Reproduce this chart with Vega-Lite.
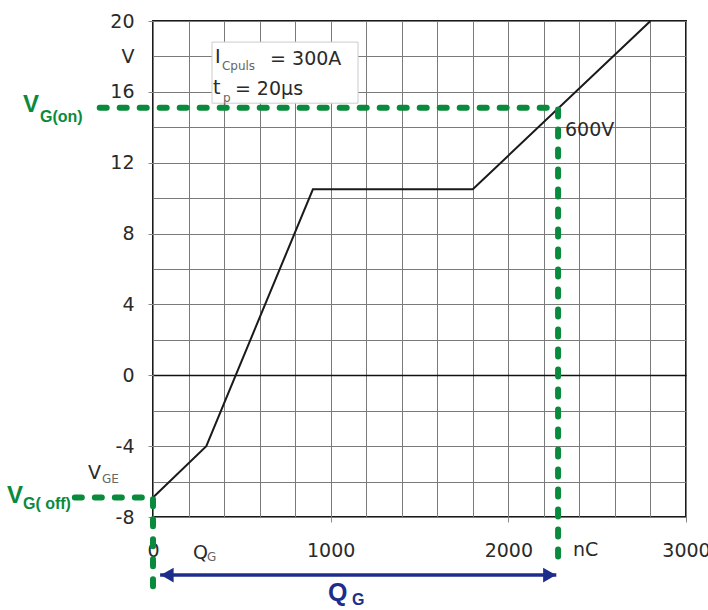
{
  "$schema": "https://vega.github.io/schema/vega-lite/v6.json",
  "width": 533,
  "height": 496,
  "autosize": {"type": "none"},
  "padding": {"left": 153, "top": 21, "right": 22, "bottom": 93},
  "background": "white",
  "config": {"view": {"stroke": "#1a1a1a", "strokeWidth": 2}, "font": "DejaVu Sans"},
  "datasets": {
    "curve": [{"q": 0, "v": -6.9}, {"q": 300, "v": -4}, {"q": 900, "v": 10.5}, {"q": 1800, "v": 10.5}, {"q": 2800, "v": 20}],
    "box": [{"q1": 332, "q2": 1154, "v1": 15.36, "v2": 18.81}],
    "guides": [
      {"id": "on", "seq": 1, "q": -300, "v": 15.1},
      {"id": "on", "seq": 2, "q": 2280, "v": 15.1},
      {"id": "on", "seq": 3, "q": 2280, "v": -10.85},
      {"id": "off", "seq": 1, "q": -440, "v": -6.9},
      {"id": "off", "seq": 2, "q": 0, "v": -6.9},
      {"id": "off", "seq": 3, "q": 0, "v": -12.0}
    ],
    "arrow": [{"q": 40, "v": -11.28}, {"q": 2270, "v": -11.28}],
    "heads": [{"q": 80, "v": -11.28, "dir": "left"}, {"q": 2232, "v": -11.28, "dir": "right"}],
    "greenBig": [{"q": -732, "v": 15.25, "t": "V"}, {"q": -822, "v": -6.81, "t": "V"}],
    "greenSub": [{"q": -636, "v": 14.57, "t": "G(on)"}, {"q": -732, "v": -7.26, "t": "G( off)"}],
    "greyMain": [
      {"q": 349, "v": 17.96, "t": "I"},
      {"q": 659, "v": 17.85, "t": "= 300A"},
      {"q": 338, "v": 16.2, "t": "t"},
      {"q": 461, "v": 16.15, "t": "= 20µs"},
      {"q": 2319, "v": 13.83, "t": "600V"},
      {"q": 2364, "v": -9.87, "t": "nC"},
      {"q": -366, "v": -5.51, "t": "V"},
      {"q": 225, "v": -10.04, "t": "Q"}
    ],
    "greySub": [
      {"q": 388, "v": 17.45, "t": "Cpuls"},
      {"q": 394, "v": 15.65, "t": "p"},
      {"q": -287, "v": -5.85, "t": "GE"},
      {"q": 304, "v": -10.26, "t": "G"}
    ],
    "blueBig": [{"q": 985, "v": -12.3, "t": "Q"}],
    "blueSub": [{"q": 1120, "v": -12.69, "t": "G"}]
  },
  "layer": [
    {
      "data": {"name": "box"},
      "mark": {"type": "rect", "fill": "white", "stroke": "#cccccc", "strokeWidth": 1},
      "encoding": {
        "x": {
          "field": "q1", "type": "quantitative",
          "scale": {"domain": [0, 3000], "nice": false, "zero": false},
          "axis": {
            "values": [0, 200, 400, 600, 800, 1000, 1200, 1400, 1600, 1800, 2000, 2200, 2400, 2600, 2800, 3000],
            "tickCount": 100,
            "labelExpr": "datum.value % 1000 === 0 ? '' + datum.value : ''",
            "title": null, "domain": false,
            "grid": true, "gridColor": "#7a7a7a", "gridWidth": 1,
            "ticks": true, "tickSize": 5, "tickColor": "#888",
            "tickOpacity": {"condition": {"test": "datum.value % 1000 === 0", "value": 1}, "value": 0},
            "labelPadding": 19, "labelFontSize": 19, "labelColor": "#2a2a2a", "labelFont": "DejaVu Sans",
            "labelOverlap": false, "labelBound": false, "labelFlush": false
          }
        },
        "x2": {"field": "q2"},
        "y": {
          "field": "v1", "type": "quantitative",
          "scale": {"domain": [-8, 20], "nice": false, "zero": false},
          "axis": {
            "values": [-8, -6, -4, -2, 0, 2, 4, 6, 8, 10, 12, 14, 16, 18, 20],
            "tickCount": 100,
            "labelExpr": "datum.value % 4 === 0 ? '' + datum.value : (datum.value === 18 ? 'V' : '')",
            "title": null, "domain": false,
            "grid": true,
            "gridColor": {"condition": {"test": "datum.value === 0", "value": "#111111"}, "value": "#7a7a7a"},
            "gridWidth": {"condition": {"test": "datum.value === 0", "value": 1.6}, "value": 1},
            "ticks": true, "tickSize": 5, "tickColor": "#888",
            "tickOpacity": {"condition": {"test": "datum.value % 4 === 0", "value": 1}, "value": 0},
            "labelPadding": 14, "labelFontSize": 19, "labelColor": "#2a2a2a", "labelFont": "DejaVu Sans",
            "labelOverlap": false, "labelBound": false, "labelFlush": false
          }
        },
        "y2": {"field": "v2"}
      }
    },
    {
      "data": {"name": "curve"},
      "mark": {"type": "line", "color": "#1a1a1a", "strokeWidth": 2},
      "encoding": {
        "x": {"field": "q", "type": "quantitative"},
        "y": {"field": "v", "type": "quantitative"}
      }
    },
    {
      "data": {"name": "guides"},
      "mark": {"type": "line", "color": "#0a8a3c", "strokeWidth": 6, "strokeDash": [7, 13], "strokeCap": "round", "clip": false},
      "encoding": {
        "x": {"field": "q", "type": "quantitative"},
        "y": {"field": "v", "type": "quantitative"},
        "detail": {"field": "id"},
        "order": {"field": "seq", "type": "quantitative"}
      }
    },
    {
      "data": {"name": "arrow"},
      "mark": {"type": "line", "color": "#1c2d8c", "strokeWidth": 3.5, "clip": false},
      "encoding": {
        "x": {"field": "q", "type": "quantitative"},
        "y": {"field": "v", "type": "quantitative"}
      }
    },
    {
      "data": {"name": "heads"},
      "mark": {"type": "point", "filled": true, "color": "#1c2d8c", "opacity": 1, "size": 220, "clip": false},
      "encoding": {
        "x": {"field": "q", "type": "quantitative"},
        "y": {"field": "v", "type": "quantitative"},
        "shape": {"field": "dir", "type": "nominal", "scale": {"domain": ["left", "right"], "range": ["triangle-left", "triangle-right"]}, "legend": null}
      }
    },
    {
      "data": {"name": "greenBig"},
      "mark": {"type": "text", "align": "left", "baseline": "middle", "font": "Liberation Sans", "fontWeight": "bold", "fontSize": 24, "color": "#0a8a3c"},
      "encoding": {"x": {"field": "q", "type": "quantitative"}, "y": {"field": "v", "type": "quantitative"}, "text": {"field": "t"}}
    },
    {
      "data": {"name": "greenSub"},
      "mark": {"type": "text", "align": "left", "baseline": "middle", "font": "Liberation Sans", "fontWeight": "bold", "fontSize": 16, "color": "#0a8a3c"},
      "encoding": {"x": {"field": "q", "type": "quantitative"}, "y": {"field": "v", "type": "quantitative"}, "text": {"field": "t"}}
    },
    {
      "data": {"name": "greyMain"},
      "mark": {"type": "text", "align": "left", "baseline": "middle", "font": "DejaVu Sans", "fontSize": 19, "color": "#2a2a2a"},
      "encoding": {"x": {"field": "q", "type": "quantitative"}, "y": {"field": "v", "type": "quantitative"}, "text": {"field": "t"}}
    },
    {
      "data": {"name": "greySub"},
      "mark": {"type": "text", "align": "left", "baseline": "middle", "font": "DejaVu Sans", "fontSize": 12, "color": "#666666"},
      "encoding": {"x": {"field": "q", "type": "quantitative"}, "y": {"field": "v", "type": "quantitative"}, "text": {"field": "t"}}
    },
    {
      "data": {"name": "blueBig"},
      "mark": {"type": "text", "align": "left", "baseline": "middle", "font": "Liberation Sans", "fontWeight": "bold", "fontSize": 25, "color": "#1c2d8c"},
      "encoding": {"x": {"field": "q", "type": "quantitative"}, "y": {"field": "v", "type": "quantitative"}, "text": {"field": "t"}}
    },
    {
      "data": {"name": "blueSub"},
      "mark": {"type": "text", "align": "left", "baseline": "middle", "font": "Liberation Sans", "fontWeight": "bold", "fontSize": 16, "color": "#1c2d8c"},
      "encoding": {"x": {"field": "q", "type": "quantitative"}, "y": {"field": "v", "type": "quantitative"}, "text": {"field": "t"}}
    }
  ]
}
